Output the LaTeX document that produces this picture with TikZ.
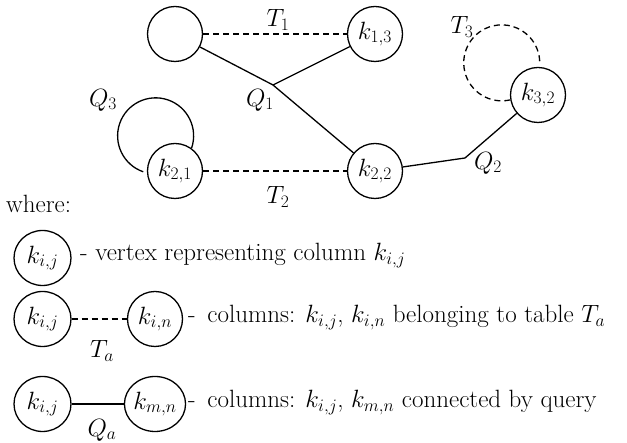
\documentclass[tikz,border=0pt]{standalone}
\usepackage{fix-cm}
\usetikzlibrary{shapes.geometric}
\newcommand{\bigfnt}{\fontsize{25}{30}\selectfont}
\begin{document}
\begin{tikzpicture}[x=1pt,y=1pt,
  txt/.style={font=\bigfnt, inner sep=0pt},
  vtx/.style={circle, draw, line width=1.3pt, minimum size=55pt, inner sep=0pt, font=\bigfnt},
  lvtx/.style={ellipse, draw, line width=1.3pt, minimum width=57pt, minimum height=55pt, inner sep=0pt, font=\bigfnt},
  rvtx/.style={ellipse, draw, line width=1.3pt, minimum width=55pt, minimum height=55pt, inner sep=0pt, font=\bigfnt},
  solidedge/.style={line width=1.3pt},
  dashedge/.style={line width=1.3pt, dash pattern=on 6pt off 4pt}]
\useasboundingbox (0,0) rectangle (627,443);
% graph
\node[vtx] (tl) at (175,409) {};
\node[vtx] (k13) at (375,409) {$k_{1,3}$};
\node[vtx] (k21) at (175,272) {$k_{2,1}$};
\node[vtx] (k22) at (375,272) {$k_{2,2}$};
\node[vtx] (k32) at (538,348) {$k_{3,2}$};
\coordinate (j1) at (273,358);
\coordinate (j2) at (465,285);
\draw[dashedge] (tl) -- (k13);
\draw[dashedge] (k21) -- (k22);
\draw[solidedge] (tl) -- (j1) -- (k13);
\draw[solidedge] (j1) -- (k22);
\draw[solidedge] (k22) -- (j2) -- (k32);
\draw[solidedge] (k21.54) arc[start angle=-19, end angle=251, radius=38];
\draw[dashedge] (k32.190) arc[start angle=283, end angle=0, radius=38];
\node[txt] (t1) at (278,423) {$T_1$};
\node[txt] (t2) at (278,246) {$T_2$};
\node[txt] (t3) at (462,416) {$T_3$};
\node[txt] (q1) at (260,343) {$Q_1$};
\node[txt] (q2) at (488,280) {$Q_2$};
\node[txt] (q3) at (103,343) {$Q_3$};
% legend
\node[txt, anchor=base west] (where) at (6,230) {where:};
\node[lvtx] (la) at (42.5,185) {$k_{i,j}$};
\node[txt, anchor=base west] (ta) at (80,182) {- vertex representing column $k_{i,j}$};
\node[lvtx] (lb1) at (42.5,124) {$k_{i,j}$};
\node[rvtx] (lb2) at (155,124) {$k_{i,n}$};
\draw[dashedge] (lb1) -- (lb2);
\node[txt] (lbt) at (102,92) {$T_a$};
\node[txt, anchor=base west] (tb) at (188,120) {- \,columns: $k_{i,j}$, $k_{i,n}$ belonging to table $T_a$};
\node[lvtx] (lc1) at (42.5,39) {$k_{i,j}$};
\node[rvtx] (lc2) at (155,39) {$k_{m,n}$};
\draw[solidedge] (lc1) -- (lc2);
\node[txt] (lcq) at (102,13) {$Q_a$};
\node[txt, anchor=base west] (tc) at (188,35) {- \,columns: $k_{i,j}$, $k_{m,n}$ connected by query};
\end{tikzpicture}
\end{document}
